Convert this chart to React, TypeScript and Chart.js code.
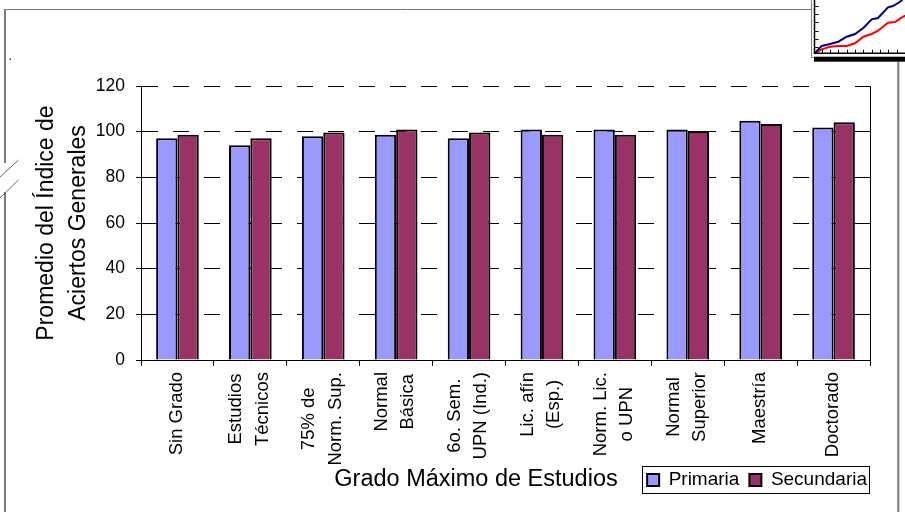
import React, { useEffect, useRef } from 'react';
import { Chart, registerables } from 'chart.js';

Chart.register(...registerables);

// ---------- data ----------
const categories: string[][] = [
  ['Sin Grado'],
  ['Estudios', 'Técnicos'],
  ['75% de', 'Norm. Sup.'],
  ['Normal', 'Básica'],
  ['6o. Sem.', 'UPN (Ind.)'],
  ['Lic. afín', '(Esp.)'],
  ['Norm. Lic.', 'o UPN'],
  ['Normal', 'Superior'],
  ['Maestría'],
  ['Doctorado'],
];
const primaria = [97.1, 94.0, 98.0, 98.7, 97.1, 100.9, 100.9, 100.9, 104.8, 101.8];
const secundaria = [98.7, 97.1, 99.6, 100.9, 99.6, 98.7, 98.7, 100.3, 103.4, 104.1];
const seriesNames = ['Primaria', 'Secundaria'];
const yMin = 0;
const yMax = 120;
const yStep = 20;
const yTitle = ['Promedio del Índice de', 'Aciertos Generales'];
const xTitle = 'Grado Máximo de Estudios';

// fragment of a neighbouring line chart (top-right corner)
const miniBlueX = [-0.86, 0, 1, 2, 3, 4, 5, 6, 6.76, 7.96, 8.56, 9.4, 10.2];
const miniBlueY = [0, 0.88, 1.12, 1.39, 1.99, 2.32, 3.04, 4.08, 4.24, 5.52, 5.68, 6.19, 6.9];
const miniRedX = [-0.86, 0, 1, 2, 3, 4, 5, 6, 6.76, 7.96, 8.8, 9.76, 10.2];
const miniRedY = [0, 0.48, 0.79, 0.88, 0.88, 1.2, 1.99, 2.32, 2.71, 3.67, 3.76, 4.39, 4.6];
const miniXTicks = [0, 1, 2, 3, 4, 5, 6, 7, 8, 9, 10];
const miniYTicks = [0.72, 1.72, 2.72, 3.72, 4.72, 5.72];

const FONT = '"Liberation Sans", Arial, Helvetica, sans-serif';

const decorPlugin = {
  id: 'decor',
  beforeDraw(chart: any) {
    const ctx = chart.ctx as CanvasRenderingContext2D;
    ctx.save();
    ctx.fillStyle = '#ffffff';
    ctx.fillRect(0, 0, chart.width, chart.height);
    ctx.strokeStyle = '#7a7a7a';
    // top frame line
    ctx.lineWidth = 1;
    ctx.beginPath();
    ctx.moveTo(4, 9.5);
    ctx.lineTo(811, 9.5);
    ctx.stroke();
    // left frame line (with break)
    ctx.lineWidth = 2;
    ctx.beginPath();
    ctx.moveTo(5, 9);
    ctx.lineTo(5, 163);
    ctx.moveTo(5, 192);
    ctx.lineTo(5, 512);
    ctx.stroke();
    // right frame line
    ctx.beginPath();
    ctx.moveTo(898.3, 62);
    ctx.lineTo(898.3, 512);
    ctx.stroke();
    // break marks
    ctx.lineWidth = 1;
    ctx.strokeStyle = '#6a6a6a';
    ctx.beginPath();
    ctx.moveTo(0, 177);
    ctx.lineTo(18.5, 160);
    ctx.moveTo(0, 198);
    ctx.lineTo(18.5, 180);
    ctx.stroke();
    ctx.fillStyle = '#333';
    ctx.fillRect(9.5, 58.5, 1.5, 1.5);
    ctx.restore();
  },
  afterDraw(chart: any) {
    const ctx = chart.ctx as CanvasRenderingContext2D;
    const a = chart.chartArea;
    const xs = chart.scales.x;
    ctx.save();
    ctx.fillStyle = '#000';
    ctx.font = `18.5px ${FONT}`;
    ctx.textAlign = 'center';
    ctx.textBaseline = 'middle';
    categories.forEach((lines, i) => {
      const cx = xs.getPixelForValue(i) - 1;
      const maxW = Math.max(...lines.map((l) => ctx.measureText(l).width));
      const cy = a.bottom + 12 + maxW / 2;
      lines.forEach((line, j) => {
        const lx = cx + (j - (lines.length - 1) / 2) * 26.5;
        ctx.save();
        ctx.translate(lx, cy);
        ctx.rotate(-Math.PI / 2);
        ctx.fillText(line, 0, 0);
        ctx.restore();
      });
    });
    // x axis title
    ctx.font = `23.5px ${FONT}`;
    ctx.fillText(xTitle, 476, 480);
    // legend frame
    const lg = chart.legend;
    const hb = lg && lg.legendHitBoxes;
    if (hb && hb.length) {
      const last = hb[hb.length - 1];
      const left = Math.round(hb[0].left - 5) + 0.5;
      const right = Math.round(last.left + last.width + 2) + 0.5;
      const top = Math.round(lg.top + 5.5) + 0.5;
      const bottom = Math.round(lg.top + 32.5) + 0.5;
      ctx.strokeStyle = '#000';
      ctx.lineWidth = 1;
      ctx.strokeRect(left, top, right - left, bottom - top);
    }
    ctx.restore();
  },
};

const miniPlugin = {
  id: 'miniAxes',
  afterDraw(chart: any) {
    const ctx = chart.ctx as CanvasRenderingContext2D;
    const a = chart.chartArea;
    const xs = chart.scales.x;
    const ys = chart.scales.y;
    ctx.save();
    ctx.strokeStyle = '#808080';
    ctx.lineWidth = 1;
    ctx.beginPath();
    ctx.moveTo(6.5, 0);
    ctx.lineTo(6.5, 57.5);
    ctx.lineTo(9, 57.5);
    ctx.stroke();
    ctx.strokeStyle = '#000';
    ctx.lineWidth = 1.5;
    ctx.beginPath();
    ctx.moveTo(a.left, 0);
    ctx.lineTo(a.left, a.bottom);
    ctx.lineTo(a.right, a.bottom);
    ctx.stroke();
    ctx.lineWidth = 1;
    ctx.beginPath();
    miniXTicks.forEach((v) => {
      const px = Math.round(xs.getPixelForValue(v)) + 0.5;
      ctx.moveTo(px, a.bottom);
      ctx.lineTo(px, a.bottom - 3.5);
    });
    miniYTicks.forEach((v) => {
      const py = Math.round(ys.getPixelForValue(v)) + 0.5;
      ctx.moveTo(a.left, py);
      ctx.lineTo(a.left + 4, py);
    });
    ctx.stroke();
    ctx.fillStyle = '#000';
    ctx.fillRect(9, 56.7, 91, 5);
    ctx.restore();
  },
};

export default function App() {
  const mainRef = useRef<HTMLCanvasElement>(null);
  const miniRef = useRef<HTMLCanvasElement>(null);

  useEffect(() => {
    document.body.style.margin = '0';
    document.body.style.overflow = 'hidden';

    const chart = new Chart(mainRef.current as HTMLCanvasElement, {
      type: 'bar',
      data: {
        labels: categories.map((c) => c.join(' ')),
        datasets: [
          {
            label: seriesNames[0],
            data: primaria,
            backgroundColor: '#9999FF',
            borderColor: '#000000',
            borderWidth: 2,
            yAxisID: 'y',
          },
          {
            label: seriesNames[1],
            data: secundaria,
            backgroundColor: '#993366',
            borderColor: '#000000',
            borderWidth: 2,
            yAxisID: 'y',
          },
        ],
      },
      options: {
        animation: false,
        responsive: false,
        devicePixelRatio: 1,
        layout: { padding: { top: 86, bottom: 12.5, left: 0, right: 28 } },
        datasets: { bar: { categoryPercentage: 0.585, barPercentage: 1 } },
        plugins: {
          legend: {
            position: 'bottom',
            align: 'end',
            labels: {
              font: { family: FONT, size: 19 },
              color: '#000',
              boxWidth: 12,
              boxHeight: 12,
              padding: 10,
            },
          },
          tooltip: { enabled: false },
          title: { display: false },
        },
        scales: {
          x: {
            type: 'category',
            offset: true,
            grid: {
              display: true,
              drawOnChartArea: false,
              drawTicks: true,
              tickLength: 6,
              tickColor: '#000',
              offset: true,
            },
            border: { display: true, color: '#000', width: 1 },
            ticks: { display: false },
            afterFit: (s: any) => {
              s.height = 100.5;
            },
          },
          y: {
            type: 'linear',
            position: 'left',
            min: yMin,
            max: yMax,
            ticks: {
              stepSize: yStep,
              font: { family: FONT, size: 17.5 },
              color: '#000',
              padding: 11,
            },
            grid: { color: '#000', lineWidth: 1, tickLength: 5, tickColor: '#000' },
            border: { display: true, color: '#000', width: 1, dash: [16, 15] },
            title: {
              display: true,
              text: yTitle,
              font: { family: FONT, size: 23, lineHeight: 1.39 },
              color: '#000',
              padding: { top: 31, bottom: 0 },
            },
            afterFit: (s: any) => {
              s.width = 141;
            },
          },
          y2: {
            type: 'linear',
            position: 'right',
            min: 0,
            max: 1,
            grid: { display: false, drawTicks: false },
            ticks: { display: false },
            border: { display: true, color: '#000', width: 1 },
            afterFit: (s: any) => {
              s.width = 7;
            },
          },
        },
      } as any,
      plugins: [decorPlugin],
    });

    const mini = new Chart(miniRef.current as HTMLCanvasElement, {
      type: 'line',
      data: {
        datasets: [
          {
            label: 'a',
            data: miniBlueX.map((x, i) => ({ x, y: miniBlueY[i] })),
            borderColor: '#000080',
            borderWidth: 2,
            pointRadius: 0,
            tension: 0,
            fill: false,
          },
          {
            label: 'b',
            data: miniRedX.map((x, i) => ({ x, y: miniRedY[i] })),
            borderColor: '#FF0000',
            borderWidth: 2,
            pointRadius: 0,
            tension: 0,
            fill: false,
          },
        ],
      },
      options: {
        animation: false,
        responsive: false,
        devicePixelRatio: 1,
        layout: { padding: { left: 9.5, right: 0, top: 0, bottom: 10.7 } },
        plugins: { legend: { display: false }, tooltip: { enabled: false } },
        scales: {
          x: { type: 'linear', display: false, min: -0.86, max: 10 },
          y: { type: 'linear', display: false, min: 0, max: 6.4 },
        },
      } as any,
      plugins: [miniPlugin],
    });

    return () => {
      chart.destroy();
      mini.destroy();
    };
  }, []);

  return (
    <div style={{ position: 'relative', width: 905, height: 512, overflow: 'hidden' }}>
      <canvas ref={mainRef} width={905} height={512} style={{ position: 'absolute', left: 0, top: 0 }} />
      <canvas ref={miniRef} width={100} height={64} style={{ position: 'absolute', left: 805, top: 0 }} />
    </div>
  );
}
